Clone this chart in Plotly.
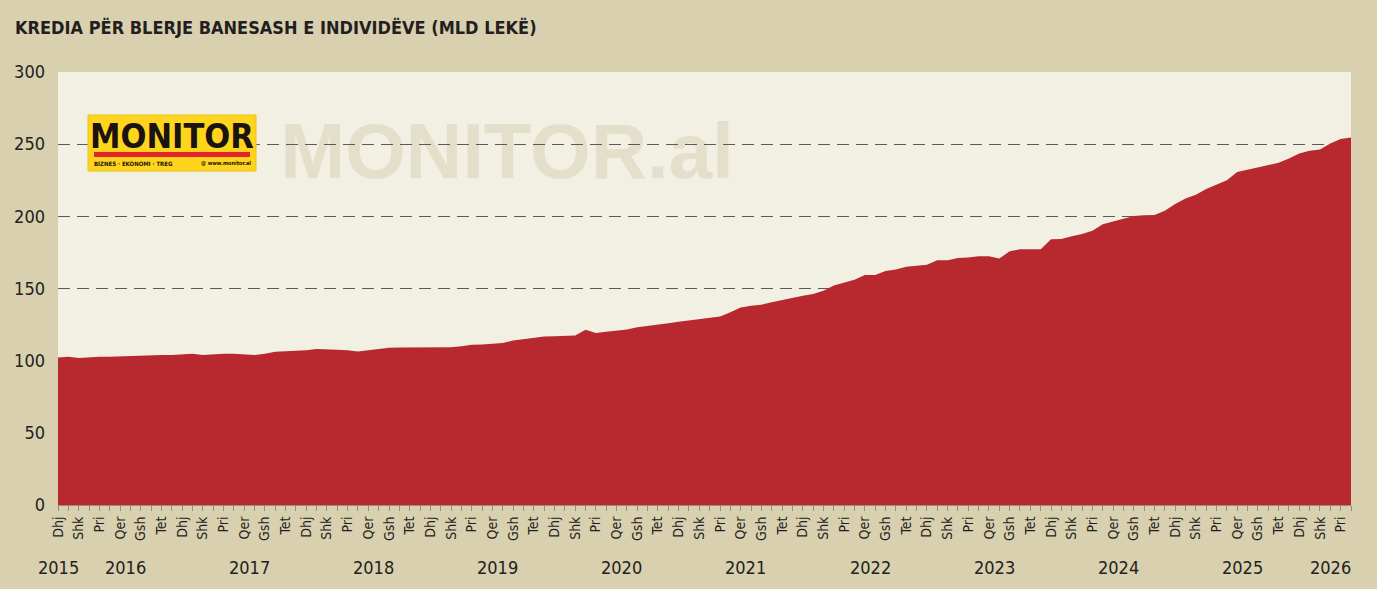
import pandas as pd
import plotly.graph_objects as go

# Kredia per blerje banesash (mld leke), mujore, Dhj 2015 - Maj 2026
muajt_emrat = ['Jan', 'Shk', 'Mar', 'Pri', 'Maj', 'Qer',
               'Kor', 'Gsh', 'Sht', 'Tet', 'Nen', 'Dhj']

vlerat = [
    102.2, 102.7, 101.8, 102.4, 102.7, 102.7, 103.0, 103.4, 103.7, 103.7,
    104.0, 104.0, 104.4, 104.8, 103.9, 104.6, 104.8, 104.8, 104.6, 103.9,
    104.8, 106.2, 106.5, 106.6, 107.2, 108.0, 108.0, 107.5, 107.2, 106.4,
    107.2, 108.2, 108.9, 109.1, 109.1, 109.1, 109.1, 109.2, 109.3, 110.0,
    111.0, 111.2, 111.5, 112.2, 114.0, 115.0, 115.8, 116.7, 117.0, 117.0,
    117.5, 121.4, 119.1, 120.0, 120.8, 121.6, 123.2, 124.0, 125.0, 126.0,
    127.0, 128.0, 129.0, 129.8, 130.6, 133.5, 136.8, 138.0, 138.8, 140.5,
    142.1, 143.5, 145.0, 146.2, 148.5, 152.0, 154.0, 156.0, 159.4, 159.4,
    162.2, 163.1, 165.1, 166.0, 166.5, 169.6, 169.6, 171.2, 171.4, 172.3,
    172.3, 170.7, 175.8, 177.2, 177.2, 177.2, 184.1, 184.3, 186.2, 187.8,
    190.0, 194.5, 196.5, 198.5, 200.2, 200.7, 200.9, 203.9, 208.5, 212.4,
    215.0, 219.0, 222.0, 225.0, 230.8, 232.5, 233.9, 235.5, 237.1, 240.0,
    243.5, 245.5, 246.3, 250.5, 253.5, 254.6,
]

datat = pd.date_range('2015-12-01', periods=len(vlerat), freq='MS')
idx = list(range(len(vlerat)))
etiketat = [muajt_emrat[d.month - 1] if i % 2 == 0 else '' for i, d in zip(idx, datat)]

df = pd.DataFrame({'i': idx, 'vlera': vlerat, 'viti': datat.year})
vitet = df.groupby('viti')['i'].mean()

BG = '#D8D0AE'
PLOT_BG = '#F2EFE3'
KUQE = '#B8292F'
TEKST = '#231F20'
FONT = 'DejaVu Sans Condensed, Liberation Sans Narrow, sans-serif'

W, H = 1377, 589
L, R, T, B = 58, 26, 72, 84
pw, ph = W - L - R, H - T - B


def px(x):
    return (x - L) / pw


def py(y):
    return (H - B - y) / ph


fig = go.Figure()
fig.add_trace(go.Scatter(
    x=df['i'], y=df['vlera'], mode='lines', fill='tozeroy',
    line=dict(width=0, color=KUQE), fillcolor=KUQE,
    hovertemplate='%{y:.1f}<extra></extra>',
))

# watermark poshte rrjetit
fig.add_shape(type='rect', xref='paper', yref='paper', layer='below',
              x0=px(280), x1=px(734), y0=py(172), y1=py(115),
              line=dict(width=0), fillcolor='rgba(0,0,0,0)',
              label=dict(text='<b>MONITOR.al</b>', textposition='middle center',
                         font=dict(family='Liberation Sans, Arial, sans-serif',
                                   size=78, color='#E4DFCB')))

# logo
fig.add_shape(type='rect', xref='paper', yref='paper', layer='above',
              x0=px(88), x1=px(256), y0=py(171), y1=py(115),
              line=dict(width=1, color='#E9C21A'), fillcolor='#FFD41D')
fig.add_shape(type='rect', xref='paper', yref='paper', layer='above',
              x0=px(94), x1=px(250), y0=py(157), y1=py(152),
              line=dict(width=0), fillcolor='#E5232B')
fig.add_annotation(xref='paper', yref='paper', x=px(172), y=py(136),
                   xanchor='center', yanchor='middle',
                   text='<b>MONITOR</b>', showarrow=False,
                   font=dict(family=FONT, size=34, color='#1A1311'))
fig.add_annotation(xref='paper', yref='paper', x=px(92), y=py(163),
                   xanchor='left', yanchor='middle',
                   text='<b>BIZNES · EKONOMI · TREG</b>',
                   showarrow=False, font=dict(family=FONT, size=6, color='#1A1311'))
fig.add_annotation(xref='paper', yref='paper', x=px(253), y=py(163),
                   xanchor='right', yanchor='middle', text='<b>@ www.monitor.al</b>',
                   showarrow=False, font=dict(family=FONT, size=5.5, color='#1A1311'))

# vitet poshte muajve
for viti, qendra in vitet.items():
    fig.add_annotation(xref='x', yref='paper', x=qendra, y=py(567),
                       xanchor='center', yanchor='middle',
                       text=str(viti), showarrow=False,
                       font=dict(family=FONT, size=18, color=TEKST))

fig.update_layout(
    width=W, height=H,
    margin=dict(l=L, r=R, t=T, b=B),
    paper_bgcolor=BG, plot_bgcolor=PLOT_BG,
    showlegend=False,
    title=dict(text='<b>KREDIA PËR BLERJE BANESASH E INDIVIDËVE (MLD LEKË)</b>',
               x=15 / W, xanchor='left', xref='container',
               y=1 - 28 / H, yanchor='middle', yref='container',
               font=dict(family=FONT, size=18, color=TEKST)),
    xaxis=dict(range=[0, len(vlerat) - 1], tickmode='array', tickvals=idx,
               ticktext=etiketat, tickangle=-90, ticks='outside', ticklen=5,
               tickcolor='#8C8C8C', showline=True, linecolor='#8C8C8C', linewidth=1,
               showgrid=False, zeroline=False,
               tickfont=dict(family=FONT, size=14, color=TEKST)),
    yaxis=dict(range=[0, 300], dtick=50, showgrid=True, gridcolor='#5A5A5A',
               gridwidth=1.3, griddash='12px,7px', zeroline=False,
               ticks='', ticklabelstandoff=12,
               tickfont=dict(family=FONT, size=18, color=TEKST)),
)

fig.write_html('out.html', config={'displayModeBar': False},
               post_script="document.body.style.margin='0';")
